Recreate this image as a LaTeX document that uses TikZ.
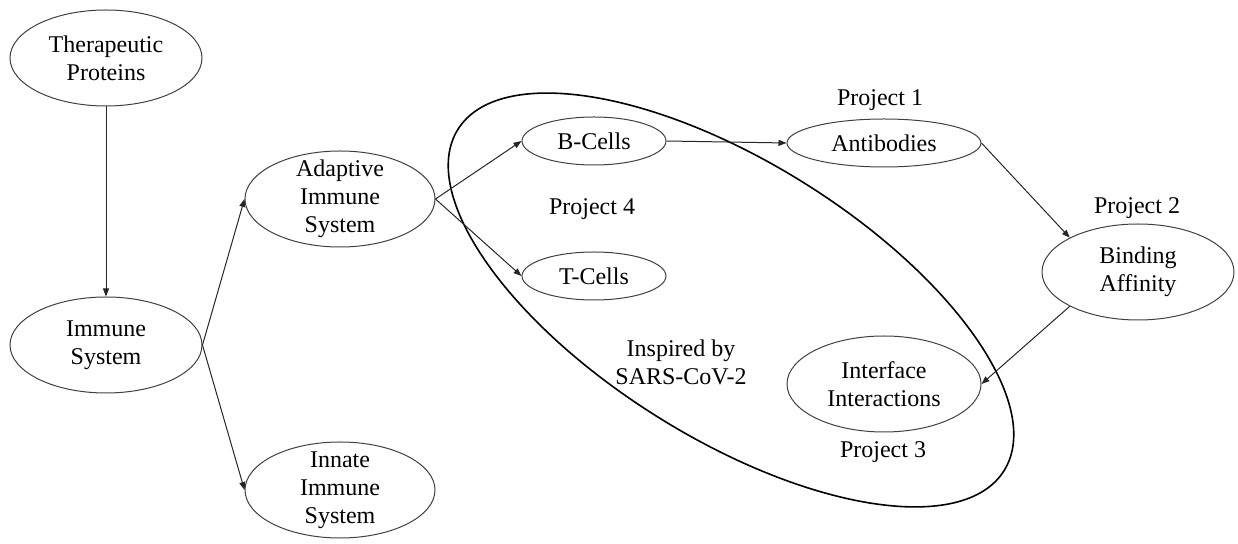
\documentclass[tikz,border=0pt]{standalone}
\usepackage{fontspec}
\setmainfont{Liberation Serif}
\usetikzlibrary{shapes.geometric,arrows.meta}
\begin{document}
\begin{tikzpicture}[x=0.5pt,y=-0.5pt,
  font=\fontsize{12pt}{14pt}\selectfont,
  ell/.style={ellipse,draw=black!75,line width=0.5pt,inner sep=0pt},
  big/.style={ell,minimum width=96pt,minimum height=48pt},
  small/.style={ell,minimum width=72pt,minimum height=24pt},
  wide/.style={ell,minimum width=97pt,minimum height=24pt},
  txt/.style={align=center,inner sep=0pt},
  arr/.style={draw=black!85,line width=0.5pt,-{Triangle[length=4pt,width=3pt]}}]
\useasboundingbox (0,0) rectangle (1238,544);
% main ellipse
\node[ellipse,draw=black,line width=0.8pt,minimum width=322pt,minimum height=138pt,inner sep=0pt,rotate=-32] (covid) at (731,300) {};
% nodes
\node[big,label={[txt]center:Therapeutic\\Proteins}] (ther) at (106,58) {};
\node[big,label={[txt]center:Immune\\System}] (imm) at (106,345) {};
\node[big,minimum width=95pt,label={[txt]center:Adaptive\\Immune\\System}] (adap) at (340,199) {};
\node[big,minimum width=95pt,label={[txt]center:Innate\\Immune\\System}] (inn) at (340,490) {};
\node[small,label={[txt]center:B-Cells}] (bc) at (594,141) {};
\node[small,label={[txt]center:T-Cells}] (tc) at (594,276) {};
\node[wide,label={[txt]center:Antibodies}] (ab) at (884,143) {};
\node[big,label={[txt]center:Binding\\Affinity}] (ba) at (1138,272) {};
\node[big,minimum width=97pt,label={[txt]center:Interface\\Interactions}] (ii) at (884,384) {};
% labels
\node[txt] (p1) at (880,100) {Project 1};
\node[txt] (p2) at (1137,208) {Project 2};
\node[txt] (p3) at (883,452) {Project 3};
\node[txt] (p4) at (592,209) {Project 4};
\node[txt] (insp) at (681,362) {Inspired by\\SARS-CoV-2};
% connectors
\draw[arr] (ther) -- (imm);
\draw[arr] (imm.east) -- (adap.west);
\draw[arr] (imm.east) -- (inn.west);
\draw[arr] (adap.east) -- (bc.west);
\draw[arr] (adap.east) -- (tc.west);
\draw[arr] (bc.east) -- (ab.west);
\draw[arr] (ab.east) -- (ba.north west);
\draw[arr] (ba.south west) -- (ii.east);
\end{tikzpicture}
\end{document}
